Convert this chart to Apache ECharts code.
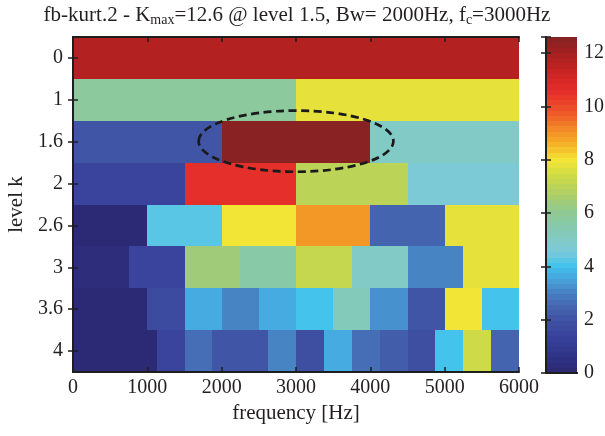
<!DOCTYPE html>
<html>
<head>
<meta charset="utf-8">
<script src="https://cdn.jsdelivr.net/npm/echarts@6/dist/echarts.min.js"></script>
<style>
  html, body { margin: 0; padding: 0; background: #fff; }
  #chart { width: 605px; height: 436px; }
</style>
</head>
<body>
<div id="chart"></div>
<script>
// Kurtogram: spectral kurtosis per decomposition level and frequency band
const freqMax = 6000;
const freqTicks = [0, 1000, 2000, 3000, 4000, 5000, 6000];
const levelLabels = ['0', '1', '1.6', '2', '2.6', '3', '3.6', '4'];

const kLevel0  = [11.7];
const kLevel1  = [5.9, 7.8];
const kLevel16 = [2.0, 12.6, 5.1];
const kLevel2  = [1.4, 10.6, 7.0, 4.65];
const kLevel26 = [0.1, 4.3, 8.0, 8.9, 2.5, 7.75];
const kLevel3  = [0.2, 1.4, 6.3, 5.6, 7.2, 5.1, 3.0, 7.7];
const kLevel36 = [0.1, 0.1, 1.6, 3.7, 3.0, 3.55, 4.0, 5.3, 3.2, 2.0, 7.9, 4.0];
const kLevel4  = [0.1, 0.1, 0.1, 1.5, 2.6, 2.1, 2.1, 3.0, 1.9, 3.6, 2.7, 2.2, 1.9, 4.05, 7.4, 2.4];

const kurtRows = [kLevel0, kLevel1, kLevel16, kLevel2, kLevel26, kLevel3, kLevel36, kLevel4];
const kMax = 12.6;

// colour scale (value -> colour), stepped into 64 levels
const cmapStops = [
  [0, '#2b2870'], [0.5, '#2e3082'], [1, '#333a92'], [1.5, '#3a459c'], [2, '#4052a4'],
  [2.5, '#4466b0'], [3, '#4680c2'], [3.5, '#48a2da'], [4, '#40c2ee'], [4.5, '#78cadc'],
  [5, '#82cac6'], [5.5, '#86c9ac'], [6, '#90c994'], [6.5, '#a4cd72'], [7, '#bcd456'],
  [7.5, '#d4dc44'], [8, '#f4e634'], [8.5, '#f5b82a'], [9, '#f39426'], [9.5, '#f06c28'],
  [10, '#ec4a2a'], [10.5, '#e6302a'], [11, '#d62826'], [11.5, '#be2222'], [12, '#a42020'],
  [12.6, '#842222']
];
const nLevels = 64;

function hexToRgb(h) {
  return [parseInt(h.slice(1, 3), 16), parseInt(h.slice(3, 5), 16), parseInt(h.slice(5, 7), 16)];
}
function smoothColor(v) {
  if (v <= cmapStops[0][0]) return cmapStops[0][1];
  for (let i = 1; i < cmapStops.length; i++) {
    if (v <= cmapStops[i][0]) {
      const a = cmapStops[i - 1], b = cmapStops[i];
      const t = (v - a[0]) / (b[0] - a[0]);
      const ca = hexToRgb(a[1]), cb = hexToRgb(b[1]);
      const c = ca.map((x, k) => Math.round(x + (cb[k] - x) * t));
      return 'rgb(' + c.join(',') + ')';
    }
  }
  return cmapStops[cmapStops.length - 1][1];
}
function colorOf(v) {
  let idx = Math.floor(v / kMax * nLevels);
  idx = Math.max(0, Math.min(nLevels - 1, idx));
  return smoothColor((idx + 0.5) / nLevels * kMax);
}

// band cells: [fStart, fEnd, levelIndex, kurtosis]
const cells = [];
let best = null;
kurtRows.forEach((row, r) => {
  const w = freqMax / row.length;
  row.forEach((k, j) => {
    const c = [j * w, (j + 1) * w, r, k];
    cells.push(c);
    if (!best || k > best[3]) best = c;
  });
});

const FONT = '"Liberation Serif", "DejaVu Serif", serif';
const TXT = '#231f20';
const FRAME = '#1e1e1e';
const LABEL_SIZE = 20;
const TEXT_SIZE = 21;

const chart = echarts.init(document.getElementById('chart'), null, { renderer: 'canvas' });

const tickStyle = { show: true, inside: true, length: 5, lineStyle: { color: FRAME, width: 1.5 } };
const lineStyle = { show: true, lineStyle: { color: FRAME, width: 2 } };

chart.setOption({
  animation: false,
  backgroundColor: '#fff',
  grid: [
    { left: 73, right: 86, top: 37, bottom: 64, containLabel: false, outerBoundsMode: 'none' },
    { left: 546, width: 31, top: 37, bottom: 63, containLabel: false, outerBoundsMode: 'none' }
  ],
  xAxis: [
    {
      type: 'value', gridIndex: 0, min: 0, max: freqMax, interval: 1000, position: 'bottom', z: 10,
      axisLine: lineStyle, axisTick: tickStyle, splitLine: { show: false },
      axisLabel: { color: TXT, fontFamily: FONT, fontSize: LABEL_SIZE, margin: 6,
        formatter: v => freqTicks.includes(v) ? String(v) : '' },
      name: 'frequency [Hz]', nameLocation: 'middle', nameGap: 30,
      nameTextStyle: { color: TXT, fontFamily: FONT, fontSize: TEXT_SIZE }
    },
    {
      type: 'value', gridIndex: 0, min: 0, max: freqMax, interval: 1000, position: 'top', z: 10,
      axisLine: lineStyle, axisTick: tickStyle, splitLine: { show: false }, axisLabel: { show: false }
    },
    {
      type: 'value', gridIndex: 1, min: 0, max: 1, position: 'bottom', z: 10,
      axisLine: lineStyle, axisTick: { show: false }, splitLine: { show: false }, axisLabel: { show: false }
    },
    {
      type: 'value', gridIndex: 1, min: 0, max: 1, position: 'top', z: 10,
      axisLine: lineStyle, axisTick: { show: false }, splitLine: { show: false }, axisLabel: { show: false }
    }
  ],
  yAxis: [
    {
      type: 'category', gridIndex: 0, data: levelLabels, inverse: true, position: 'left', z: 10,
      axisLine: lineStyle, axisTick: Object.assign({ alignWithLabel: true }, tickStyle),
      axisLabel: { color: TXT, fontFamily: FONT, fontSize: LABEL_SIZE, margin: 10 },
      name: 'level k', nameLocation: 'middle', nameGap: 45, nameRotate: 90,
      nameTextStyle: { color: TXT, fontFamily: FONT, fontSize: TEXT_SIZE }
    },
    {
      type: 'category', gridIndex: 0, data: levelLabels, inverse: true, position: 'right', z: 10,
      axisLine: lineStyle, axisTick: Object.assign({ alignWithLabel: true }, tickStyle),
      axisLabel: { show: false }
    },
    {
      type: 'value', gridIndex: 1, min: 0, max: kMax, interval: 2, position: 'right', z: 10,
      axisLine: lineStyle, axisTick: tickStyle, splitLine: { show: false },
      axisLabel: { color: TXT, fontFamily: FONT, fontSize: LABEL_SIZE, margin: 7,
        formatter: v => (v % 2 === 0 ? String(v) : '') }
    },
    {
      type: 'value', gridIndex: 1, min: 0, max: kMax, interval: 2, position: 'left', z: 10,
      axisLine: lineStyle, axisTick: tickStyle, splitLine: { show: false }, axisLabel: { show: false }
    }
  ],
  series: [
    {
      // kurtosis cells, snapped to whole pixels so neighbours join without seams
      type: 'custom', xAxisIndex: 0, yAxisIndex: 0, data: cells, z: 2,
      renderItem: function (params, api) {
        const p0 = api.coord([api.value(0), api.value(2)]);
        const p1 = api.coord([api.value(1), api.value(2)]);
        const h = api.size([0, 1])[1];
        const x0 = Math.round(p0[0]), x1 = Math.round(p1[0]);
        const y0 = Math.round(p0[1] - h / 2), y1 = Math.round(p0[1] + h / 2);
        return {
          type: 'rect',
          shape: { x: x0, y: y0, width: x1 - x0, height: y1 - y0 },
          style: { fill: colorOf(api.value(3)) }
        };
      }
    },
    {
      // dashed ellipse round the maximum-kurtosis band
      type: 'custom', xAxisIndex: 0, yAxisIndex: 0, data: [best], z: 5,
      renderItem: function (params, api) {
        const fc = (api.value(0) + api.value(1)) / 2;
        const c = api.coord([fc, api.value(2)]);
        const pr = api.coord([fc + 1310, api.value(2)]);
        const h = api.size([0, 1])[1];
        return {
          type: 'ellipse',
          shape: { cx: c[0], cy: c[1] - 0.5, rx: pr[0] - c[0], ry: h * 0.73 },
          style: { fill: null, stroke: '#1a1a1a', lineWidth: 2.7, lineDash: [8, 4.5] }
        };
      }
    },
    {
      // colour bar
      type: 'custom', xAxisIndex: 2, yAxisIndex: 2, data: [[0, 0]], z: 2,
      renderItem: function (params, api) {
        const a = api.coord([0, 0]);
        const b = api.coord([1, kMax]);
        const stops = [];
        for (let i = 0; i < nLevels; i++) {
          const col = smoothColor((i + 0.5) / nLevels * kMax);
          stops.push({ offset: i / nLevels, color: col });
          stops.push({ offset: (i + 1) / nLevels, color: col });
        }
        return {
          type: 'rect',
          shape: { x: a[0], y: b[1], width: b[0] - a[0], height: a[1] - b[1] },
          style: { fill: new echarts.graphic.LinearGradient(0, 1, 0, 0, stops) }
        };
      }
    }
  ],
  graphic: [
    {
      type: 'text', x: 297, y: 15, z: 20,
      style: {
        text: 'fb-kurt.2 - K{sub|max}=12.6 @ level 1.5, Bw= 2000Hz, f{sub|c}=3000Hz',
        align: 'center', verticalAlign: 'middle',
        fill: TXT, fontFamily: FONT, fontSize: TEXT_SIZE, lineHeight: 25,
        rich: {
          sub: { fontFamily: FONT, fontSize: 14, lineHeight: 14, verticalAlign: 'bottom', fill: TXT }
        }
      }
    }
  ]
});
</script>
</body>
</html>
